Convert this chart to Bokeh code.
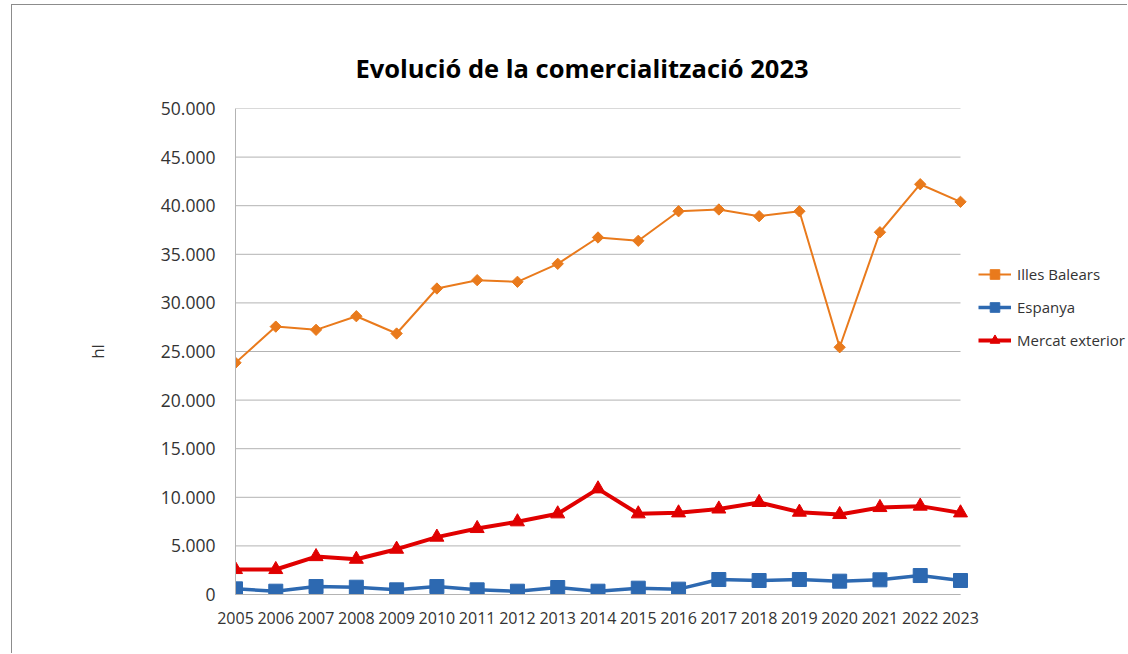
from bokeh.plotting import figure
from bokeh.models import (Range1d, FixedTicker, Legend, LegendItem, Title)
from bokeh.embed import file_html
from bokeh.resources import INLINE
import math

years = list(range(2005, 2024))
illes_balears = [23840, 27560, 27230, 28630, 26850, 31480, 32340, 32170, 34020, 36730,
                 36390, 39430, 39610, 38920, 39430, 25440, 37270, 42210, 40400]
espanya = [580, 340, 820, 750, 480, 820, 480, 340, 720, 340,
           650, 550, 1540, 1440, 1540, 1370, 1510, 1950, 1440]
mercat_exterior = [2570, 2570, 3900, 3630, 4660, 5900, 6790, 7480, 8300, 10870,
                   8300, 8400, 8800, 9470, 8470, 8230, 8950, 9090, 8400]
y_ticks = [0, 5000, 10000, 15000, 20000, 25000, 30000, 35000, 40000, 45000, 50000]
y_tick_labels = ["0", "5.000", "10.000", "15.000", "20.000", "25.000", "30.000",
                 "35.000", "40.000", "45.000", "50.000"]
title_text = "Evolució de la comercialització 2023"
series_names = ["Illes Balears", "Espanya", "Mercat exterior"]

FONT = "Open Sans"
ORANGE = "#E97A1C"
BLUE = "#2D69B1"
RED = "#E00000"
GRID = "#B3B3B3"
TXT = "#333333"

# layout (pixels)
W, H = 1116, 649
LEFT, TOP, BOTTOM = 223, 103, 60
PLOT_W = 725                      # width used by the series
FRAME_W = W - LEFT                # frame extends to the right edge (legend inside)
x_end = years[0] + (years[-1] - years[0]) * FRAME_W / PLOT_W

p = figure(width=W, height=H, output_backend="svg", toolbar_location=None,
           x_range=Range1d(years[0], x_end), y_range=Range1d(0, 50000),
           min_border_left=LEFT, min_border_right=0, min_border_top=TOP,
           min_border_bottom=BOTTOM)
p.margin = (4, 0, 0, 11)
p.outline_line_color = None
p.styles = {"border-left": "1px solid #8c8c8c", "border-top": "1px solid #8c8c8c"}

t = Title(text=title_text, align="left", offset=120, text_font=FONT,
          text_font_size="25.5px", text_font_style="bold", text_color="#000000",
          standoff=47)
p.add_layout(t, "above")

p.xgrid.grid_line_color = None
p.ygrid.grid_line_color = None
# horizontal gridlines limited to the data span
p.segment(x0=[years[0]] * len(y_ticks), x1=[years[-1]] * len(y_ticks),
          y0=y_ticks, y1=y_ticks, line_color=GRID, line_width=1)

p.xaxis.ticker = FixedTicker(ticks=years)
p.xaxis.bounds = (years[0], years[-1])
p.xaxis.major_tick_line_color = None
p.xaxis.minor_tick_line_color = None
p.xaxis.major_tick_out = 0
p.xaxis.major_tick_in = 0
p.xaxis.axis_line_color = GRID
p.xaxis.major_label_text_font = FONT
p.xaxis.major_label_text_font_size = "16px"
p.xaxis.major_label_text_color = TXT
p.xaxis.major_label_standoff = 17

p.yaxis.ticker = FixedTicker(ticks=y_ticks)
p.yaxis.major_label_overrides = dict(zip(y_ticks, y_tick_labels))
p.yaxis.major_tick_line_color = None
p.yaxis.minor_tick_line_color = None
p.yaxis.major_tick_out = 0
p.yaxis.major_tick_in = 0
p.yaxis.axis_line_color = GRID
p.yaxis.major_label_text_font = FONT
p.yaxis.major_label_text_font_size = "17.5px"
p.yaxis.major_label_text_color = TXT
p.yaxis.major_label_standoff = 20
p.yaxis.axis_label = "hl"
p.yaxis.axis_label_text_font = FONT
p.yaxis.axis_label_text_font_size = "17px"
p.yaxis.axis_label_text_font_style = "normal"
p.yaxis.axis_label_text_color = TXT
p.yaxis.axis_label_standoff = 49

l1 = p.line(years, illes_balears, line_color=ORANGE, line_width=2)
m1 = p.scatter(years, illes_balears, marker="square", angle=math.pi / 4, size=8,
               fill_color=ORANGE, line_color=ORANGE)
l2 = p.line(years, espanya, line_color=BLUE, line_width=3.5)
m2 = p.scatter(years, espanya, marker="square", size=14, fill_color=BLUE, line_color=BLUE)
l3 = p.line(years, mercat_exterior, line_color=RED, line_width=4)
m3 = p.scatter(years, mercat_exterior, marker="triangle", size=14, fill_color=RED,
               line_color=RED)

legend = Legend(items=[
    LegendItem(label=series_names[0], renderers=[l1, m1]),
    LegendItem(label=series_names[1], renderers=[l2, m2]),
    LegendItem(label=series_names[2], renderers=[l3, m3]),
], location=(PLOT_W + 18, 242), padding=0, margin=0, spacing=9, glyph_width=33,
    glyph_height=24, label_height=24, label_standoff=6,
    label_text_font=FONT, label_text_font_size="15px", label_text_color=TXT,
    border_line_color=None, background_fill_alpha=0)
p.add_layout(legend, "center")

open("out.html", "w").write(file_html(p, INLINE))
